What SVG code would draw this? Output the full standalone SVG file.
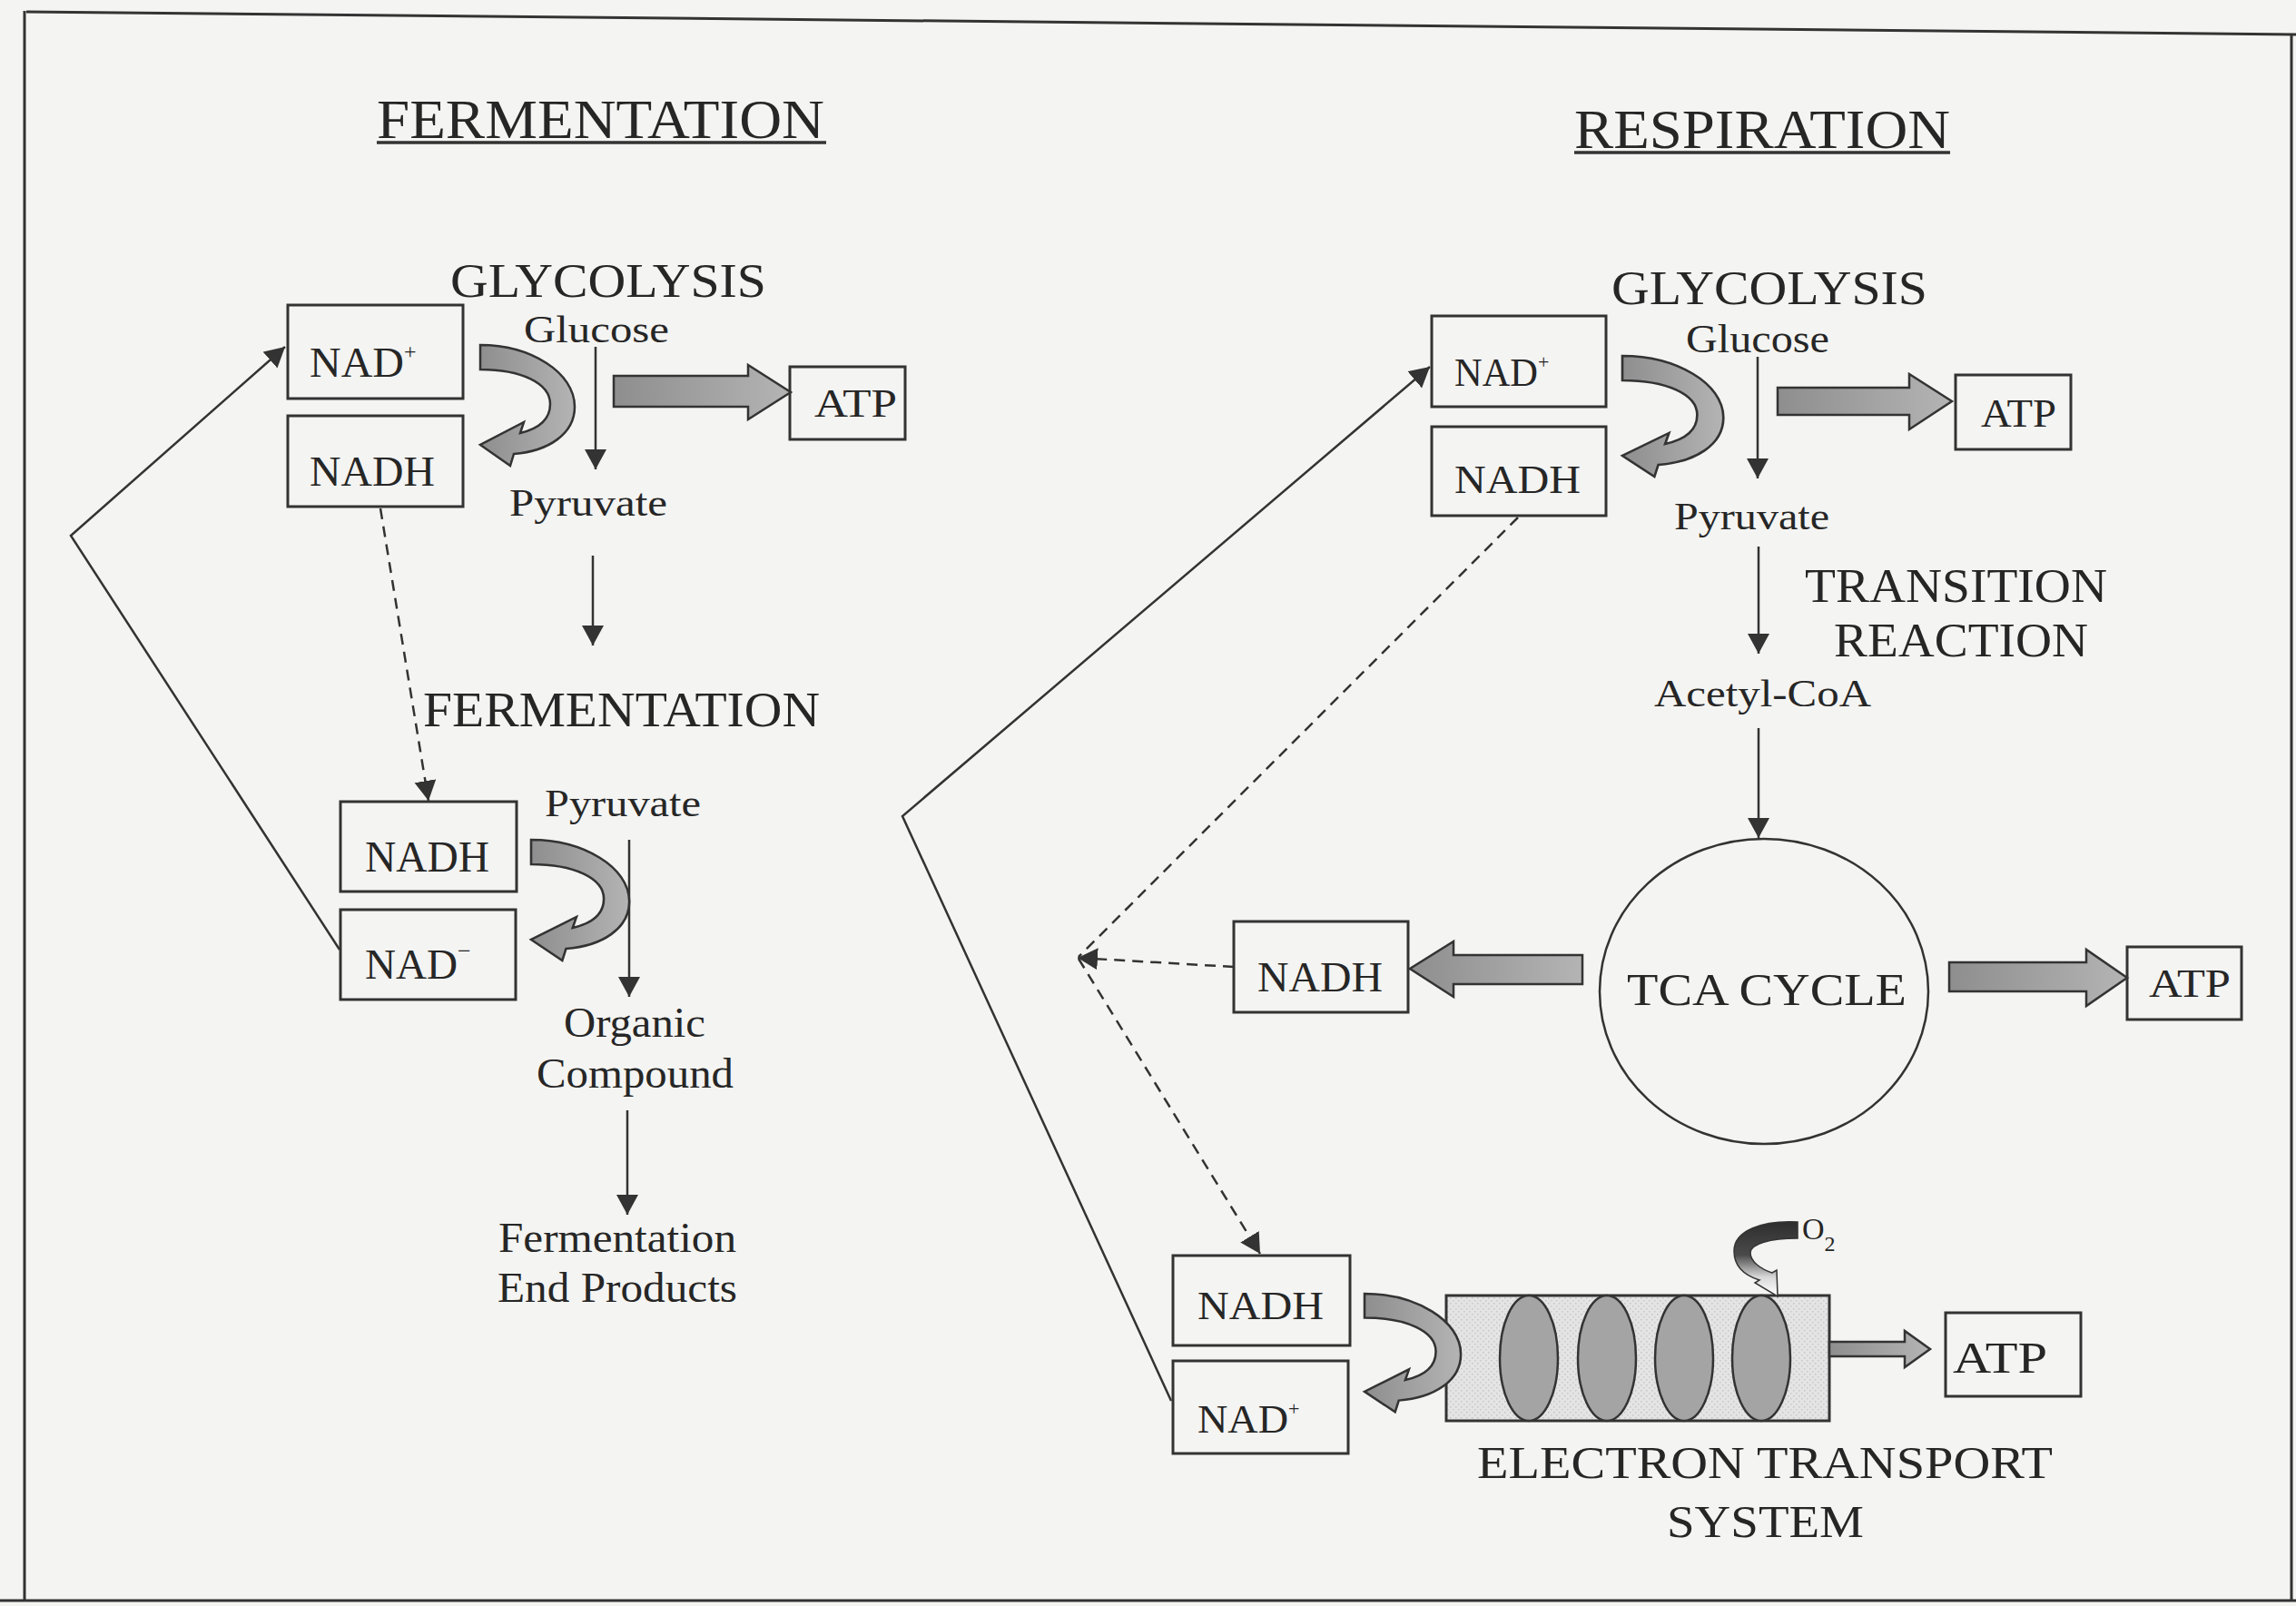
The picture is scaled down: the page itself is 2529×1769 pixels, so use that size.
<svg xmlns="http://www.w3.org/2000/svg" xmlns:xlink="http://www.w3.org/1999/xlink" width="2529" height="1769" viewBox="0 0 2529 1769">
  <style>
    .lbl { font-family: "Liberation Serif", "Times New Roman", serif; fill: #262626; }
    .box { fill: none; stroke: #333; stroke-width: 3; }
    .ln { fill: none; stroke: #333; stroke-width: 2.5; }
    .dash { stroke-dasharray: 12 8; }
    .fat { fill: url(#grayFill); stroke: #333; stroke-width: 2.5; stroke-linejoin: miter; }
    .frame { fill: none; stroke: #333; stroke-width: 3; }
    .disc { fill: #a4a4a4; stroke: #333; stroke-width: 2.5; }
  </style>
  <defs>
    <linearGradient id="grayFill" x1="0" y1="0" x2="1" y2="0">
      <stop offset="0" stop-color="#8e8e8e"/>
      <stop offset="1" stop-color="#b4b4b4"/>
    </linearGradient>
    <linearGradient id="oxyFill" gradientUnits="userSpaceOnUse" x1="0" y1="1346" x2="0" y2="1427">
      <stop offset="0" stop-color="#2e2e2e"/>
      <stop offset="0.45" stop-color="#4a4a4a"/>
      <stop offset="0.75" stop-color="#d8d8d8"/>
      <stop offset="1" stop-color="#ffffff"/>
    </linearGradient>
    <pattern id="stipple" width="6" height="6" patternUnits="userSpaceOnUse">
      <rect width="6" height="6" fill="#e4e4e4"/>
      <rect x="1" y="1" width="1.5" height="1.5" fill="#c4c4c4"/>
      <rect x="4" y="4" width="1.5" height="1.5" fill="#c8c8c8"/>
    </pattern>
    <marker id="tri" markerUnits="userSpaceOnUse" markerWidth="24" markerHeight="26" refX="22" refY="12" orient="auto">
      <path d="M0,0 L22,12 L0,24 Z" fill="#333"/>
    </marker>
    <!-- curved recycling arrow: leaves the upper box, bends round and points back at the lower box -->
    <path id="bend" d="M0,0 C55,0 104,30 104,68 C104,98 75,117 37,120 L33,133 L0,110 L48,85 L44,97 C65,92 77,82 77,65 C77,42 45,27 0,27 Z"/>
  </defs>

  <rect x="0" y="0" width="2529" height="1769" fill="#f4f4f2"/>

  <!-- page frame -->
  <g id="frame">
    <line class="frame" x1="29" y1="13" x2="2529" y2="38"/>
    <line class="frame" x1="27" y1="12" x2="27" y2="1764"/>
    <line class="frame" x1="2524" y1="37" x2="2524" y2="1764"/>
    <line class="frame" x1="0" y1="1763" x2="2529" y2="1763" stroke-width="4"/>
  </g>

  <!-- section headings -->
  <g id="title-fermentation">
    <text class="lbl" x="415" y="152" font-size="62" textLength="493" lengthAdjust="spacingAndGlyphs">FERMENTATION</text>
    <line x1="415" y1="157" x2="910" y2="157" stroke="#333" stroke-width="3.5"/>
  </g>
  <g id="title-respiration">
    <text class="lbl" x="1734" y="163" font-size="62" textLength="414" lengthAdjust="spacingAndGlyphs">RESPIRATION</text>
    <line x1="1734" y1="168" x2="2148" y2="168" stroke="#333" stroke-width="3.5"/>
  </g>

  <!-- ===== Fermentation side ===== -->
  <g id="f-glycolysis">
    <text class="lbl" x="496" y="327" font-size="52" textLength="348" lengthAdjust="spacingAndGlyphs">GLYCOLYSIS</text>
  </g>
  <g id="f-glucose">
    <text class="lbl" x="577" y="377" font-size="42" textLength="160" lengthAdjust="spacingAndGlyphs">Glucose</text>
  </g>
  <g id="f-nad">
    <rect class="box" x="317" y="336" width="193" height="103"/>
    <text class="lbl" x="341" y="415" font-size="46"><tspan textLength="104" lengthAdjust="spacingAndGlyphs">NAD</tspan><tspan font-size="24" dy="-20">+</tspan></text>
  </g>
  <g id="f-nadh">
    <rect class="box" x="317" y="458" width="193" height="100"/>
    <text class="lbl" x="341" y="535" font-size="46" textLength="138" lengthAdjust="spacingAndGlyphs">NADH</text>
  </g>
  <g id="f-atp">
    <rect class="box" x="870" y="404" width="127" height="80"/>
    <text class="lbl" x="897" y="459" font-size="44" textLength="91" lengthAdjust="spacingAndGlyphs">ATP</text>
  </g>
  <g id="f-pyruvate">
    <text class="lbl" x="561" y="568" font-size="42" textLength="174" lengthAdjust="spacingAndGlyphs">Pyruvate</text>
  </g>
  <g id="f-fermentation">
    <text class="lbl" x="466" y="800" font-size="54" textLength="437" lengthAdjust="spacingAndGlyphs">FERMENTATION</text>
  </g>
  <g id="f-pyruvate2">
    <text class="lbl" x="600" y="899" font-size="42" textLength="172" lengthAdjust="spacingAndGlyphs">Pyruvate</text>
  </g>
  <g id="f-nadh2">
    <rect class="box" x="375" y="883" width="194" height="99"/>
    <text class="lbl" x="402" y="960" font-size="48" textLength="137" lengthAdjust="spacingAndGlyphs">NADH</text>
  </g>
  <g id="f-nad2">
    <rect class="box" x="375" y="1002" width="193" height="99"/>
    <text class="lbl" x="402" y="1078" font-size="47"><tspan textLength="102" lengthAdjust="spacingAndGlyphs">NAD</tspan><tspan font-size="26" dy="-22">−</tspan></text>
  </g>
  <g id="f-organic">
    <text class="lbl" x="621" y="1142" font-size="46" textLength="156" lengthAdjust="spacingAndGlyphs">Organic</text>
    <text class="lbl" x="591" y="1198" font-size="46" textLength="217" lengthAdjust="spacingAndGlyphs">Compound</text>
  </g>
  <g id="f-endproducts">
    <text class="lbl" x="549" y="1379" font-size="46" textLength="262" lengthAdjust="spacingAndGlyphs">Fermentation</text>
    <text class="lbl" x="548" y="1434" font-size="46" textLength="264" lengthAdjust="spacingAndGlyphs">End Products</text>
  </g>

  <!-- ===== Respiration side ===== -->
  <g id="r-glycolysis">
    <text class="lbl" x="1775" y="335" font-size="52" textLength="348" lengthAdjust="spacingAndGlyphs">GLYCOLYSIS</text>
  </g>
  <g id="r-glucose">
    <text class="lbl" x="1857" y="388" font-size="44" textLength="158" lengthAdjust="spacingAndGlyphs">Glucose</text>
  </g>
  <g id="r-nad">
    <rect class="box" x="1577" y="348" width="192" height="100"/>
    <text class="lbl" x="1602" y="425" font-size="44"><tspan textLength="92" lengthAdjust="spacingAndGlyphs">NAD</tspan><tspan font-size="22" dy="-19">+</tspan></text>
  </g>
  <g id="r-nadh">
    <rect class="box" x="1577" y="470" width="192" height="98"/>
    <text class="lbl" x="1602" y="543" font-size="44" textLength="139" lengthAdjust="spacingAndGlyphs">NADH</text>
  </g>
  <g id="r-atp">
    <rect class="box" x="2154" y="413" width="127" height="82"/>
    <text class="lbl" x="2182" y="470" font-size="44" textLength="83" lengthAdjust="spacingAndGlyphs">ATP</text>
  </g>
  <g id="r-pyruvate">
    <text class="lbl" x="1844" y="583" font-size="42" textLength="171" lengthAdjust="spacingAndGlyphs">Pyruvate</text>
  </g>
  <g id="r-transition">
    <text class="lbl" x="1988" y="663" font-size="52" textLength="333" lengthAdjust="spacingAndGlyphs">TRANSITION</text>
    <text class="lbl" x="2020" y="723" font-size="52" textLength="280" lengthAdjust="spacingAndGlyphs">REACTION</text>
  </g>
  <g id="r-acetylcoa">
    <text class="lbl" x="1822" y="778" font-size="42" textLength="239" lengthAdjust="spacingAndGlyphs">Acetyl-CoA</text>
  </g>
  <g id="r-tca">
    <ellipse cx="1943" cy="1092" rx="181" ry="168" fill="none" stroke="#333" stroke-width="2.5"/>
    <text class="lbl" x="1792" y="1107" font-size="50" textLength="308" lengthAdjust="spacingAndGlyphs">TCA CYCLE</text>
  </g>
  <g id="r-nadh-tca">
    <rect class="box" x="1359" y="1015" width="192" height="100"/>
    <text class="lbl" x="1385" y="1092" font-size="46" textLength="138" lengthAdjust="spacingAndGlyphs">NADH</text>
  </g>
  <g id="r-atp-tca">
    <rect class="box" x="2343" y="1043" width="126" height="80"/>
    <text class="lbl" x="2367" y="1098" font-size="44" textLength="90" lengthAdjust="spacingAndGlyphs">ATP</text>
  </g>
  <g id="r-nadh-ets">
    <rect class="box" x="1292" y="1383" width="195" height="99"/>
    <text class="lbl" x="1319" y="1453" font-size="44" textLength="139" lengthAdjust="spacingAndGlyphs">NADH</text>
  </g>
  <g id="r-nad-ets">
    <rect class="box" x="1292" y="1499" width="193" height="102"/>
    <text class="lbl" x="1319" y="1578" font-size="44"><tspan textLength="100" lengthAdjust="spacingAndGlyphs">NAD</tspan><tspan font-size="22" dy="-19">+</tspan></text>
  </g>
  <g id="r-ets">
    <rect x="1593" y="1427" width="422" height="138" fill="url(#stipple)" stroke="#333" stroke-width="3"/>
    <ellipse class="disc" cx="1684" cy="1496" rx="32" ry="69"/>
    <ellipse class="disc" cx="1770" cy="1496" rx="32" ry="69"/>
    <ellipse class="disc" cx="1855" cy="1496" rx="32" ry="69"/>
    <ellipse class="disc" cx="1940" cy="1496" rx="32" ry="69"/>
    <text class="lbl" x="1627" y="1628" font-size="50" textLength="634" lengthAdjust="spacingAndGlyphs">ELECTRON TRANSPORT</text>
    <text class="lbl" x="1836" y="1693" font-size="50" textLength="217" lengthAdjust="spacingAndGlyphs">SYSTEM</text>
  </g>
  <g id="r-atp-ets">
    <rect class="box" x="2143" y="1446" width="149" height="92"/>
    <text class="lbl" x="2151" y="1512" font-size="48" textLength="104" lengthAdjust="spacingAndGlyphs">ATP</text>
  </g>
  <g id="r-oxygen">
    <path d="M1980,1346 C1940,1344 1910,1356 1910,1378 C1910,1395 1922,1405 1938,1410 L1933,1413 L1958,1428 L1957,1399 L1952,1402 C1940,1398 1928,1390 1928,1380 C1928,1370 1950,1364 1980,1364 Z" fill="url(#oxyFill)" stroke="#333" stroke-width="1.5"/>
    <text class="lbl" x="1985" y="1365" font-size="34">O<tspan font-size="24" dy="13">2</tspan></text>
  </g>

  <!-- connectors -->
  <g id="connectors">
    <!-- fermentation: NAD+ regeneration loop -->
    <polyline class="ln" points="374,1046 78,590 314,382" marker-end="url(#tri)"/>
    <line class="ln" x1="656" y1="382" x2="656" y2="517" marker-end="url(#tri)"/>
    <line class="ln" x1="653" y1="612" x2="653" y2="711" marker-end="url(#tri)"/>
    <line class="ln dash" x1="419" y1="560" x2="472" y2="882" marker-end="url(#tri)"/>
    <line class="ln" x1="693" y1="925" x2="693" y2="1098" marker-end="url(#tri)"/>
    <line class="ln" x1="691" y1="1223" x2="691" y2="1338" marker-end="url(#tri)"/>

    <!-- respiration: NAD+ regeneration loop -->
    <polyline class="ln" points="1290,1543 994,899 1575,404" marker-end="url(#tri)"/>
    <line class="ln" x1="1936" y1="393" x2="1936" y2="527" marker-end="url(#tri)"/>
    <line class="ln" x1="1937" y1="602" x2="1937" y2="720" marker-end="url(#tri)"/>
    <line class="ln" x1="1937" y1="802" x2="1937" y2="923" marker-end="url(#tri)"/>

    <!-- NADH shuttled towards the transport chain -->
    <line class="ln dash" x1="1672" y1="570" x2="1188" y2="1054"/>
    <line class="ln dash" x1="1359" y1="1065" x2="1187" y2="1055" marker-end="url(#tri)"/>
    <line class="ln dash" x1="1188" y1="1056" x2="1388" y2="1381" marker-end="url(#tri)"/>

    <!-- wide gray arrows -->
    <polygon class="fat" points="676,414 824,414 824,402 871,432 824,462 824,448 676,448"/>
    <polygon class="fat" points="1958,427 2103,427 2103,412 2150,442 2103,473 2103,457 1958,457"/>
    <polygon class="fat" points="1743,1052 1601,1052 1601,1037 1553,1067 1601,1098 1601,1084 1743,1084"/>
    <polygon class="fat" points="2147,1060 2298,1060 2298,1046 2343,1077 2298,1108 2298,1092 2147,1092"/>
    <polygon class="fat" points="2015,1478 2098,1478 2098,1466 2126,1486 2098,1506 2098,1494 2015,1494"/>

    <!-- curved NAD+/NADH interconversion arrows -->
    <use xlink:href="#bend" class="fat" transform="translate(529,380)"/>
    <use xlink:href="#bend" class="fat" transform="translate(585,925) scale(1.04,1)"/>
    <use xlink:href="#bend" class="fat" transform="translate(1787,392) scale(1.07,1)"/>
    <use xlink:href="#bend" class="fat" transform="translate(1503,1425) scale(1.02,0.98)"/>
  </g>
</svg>
